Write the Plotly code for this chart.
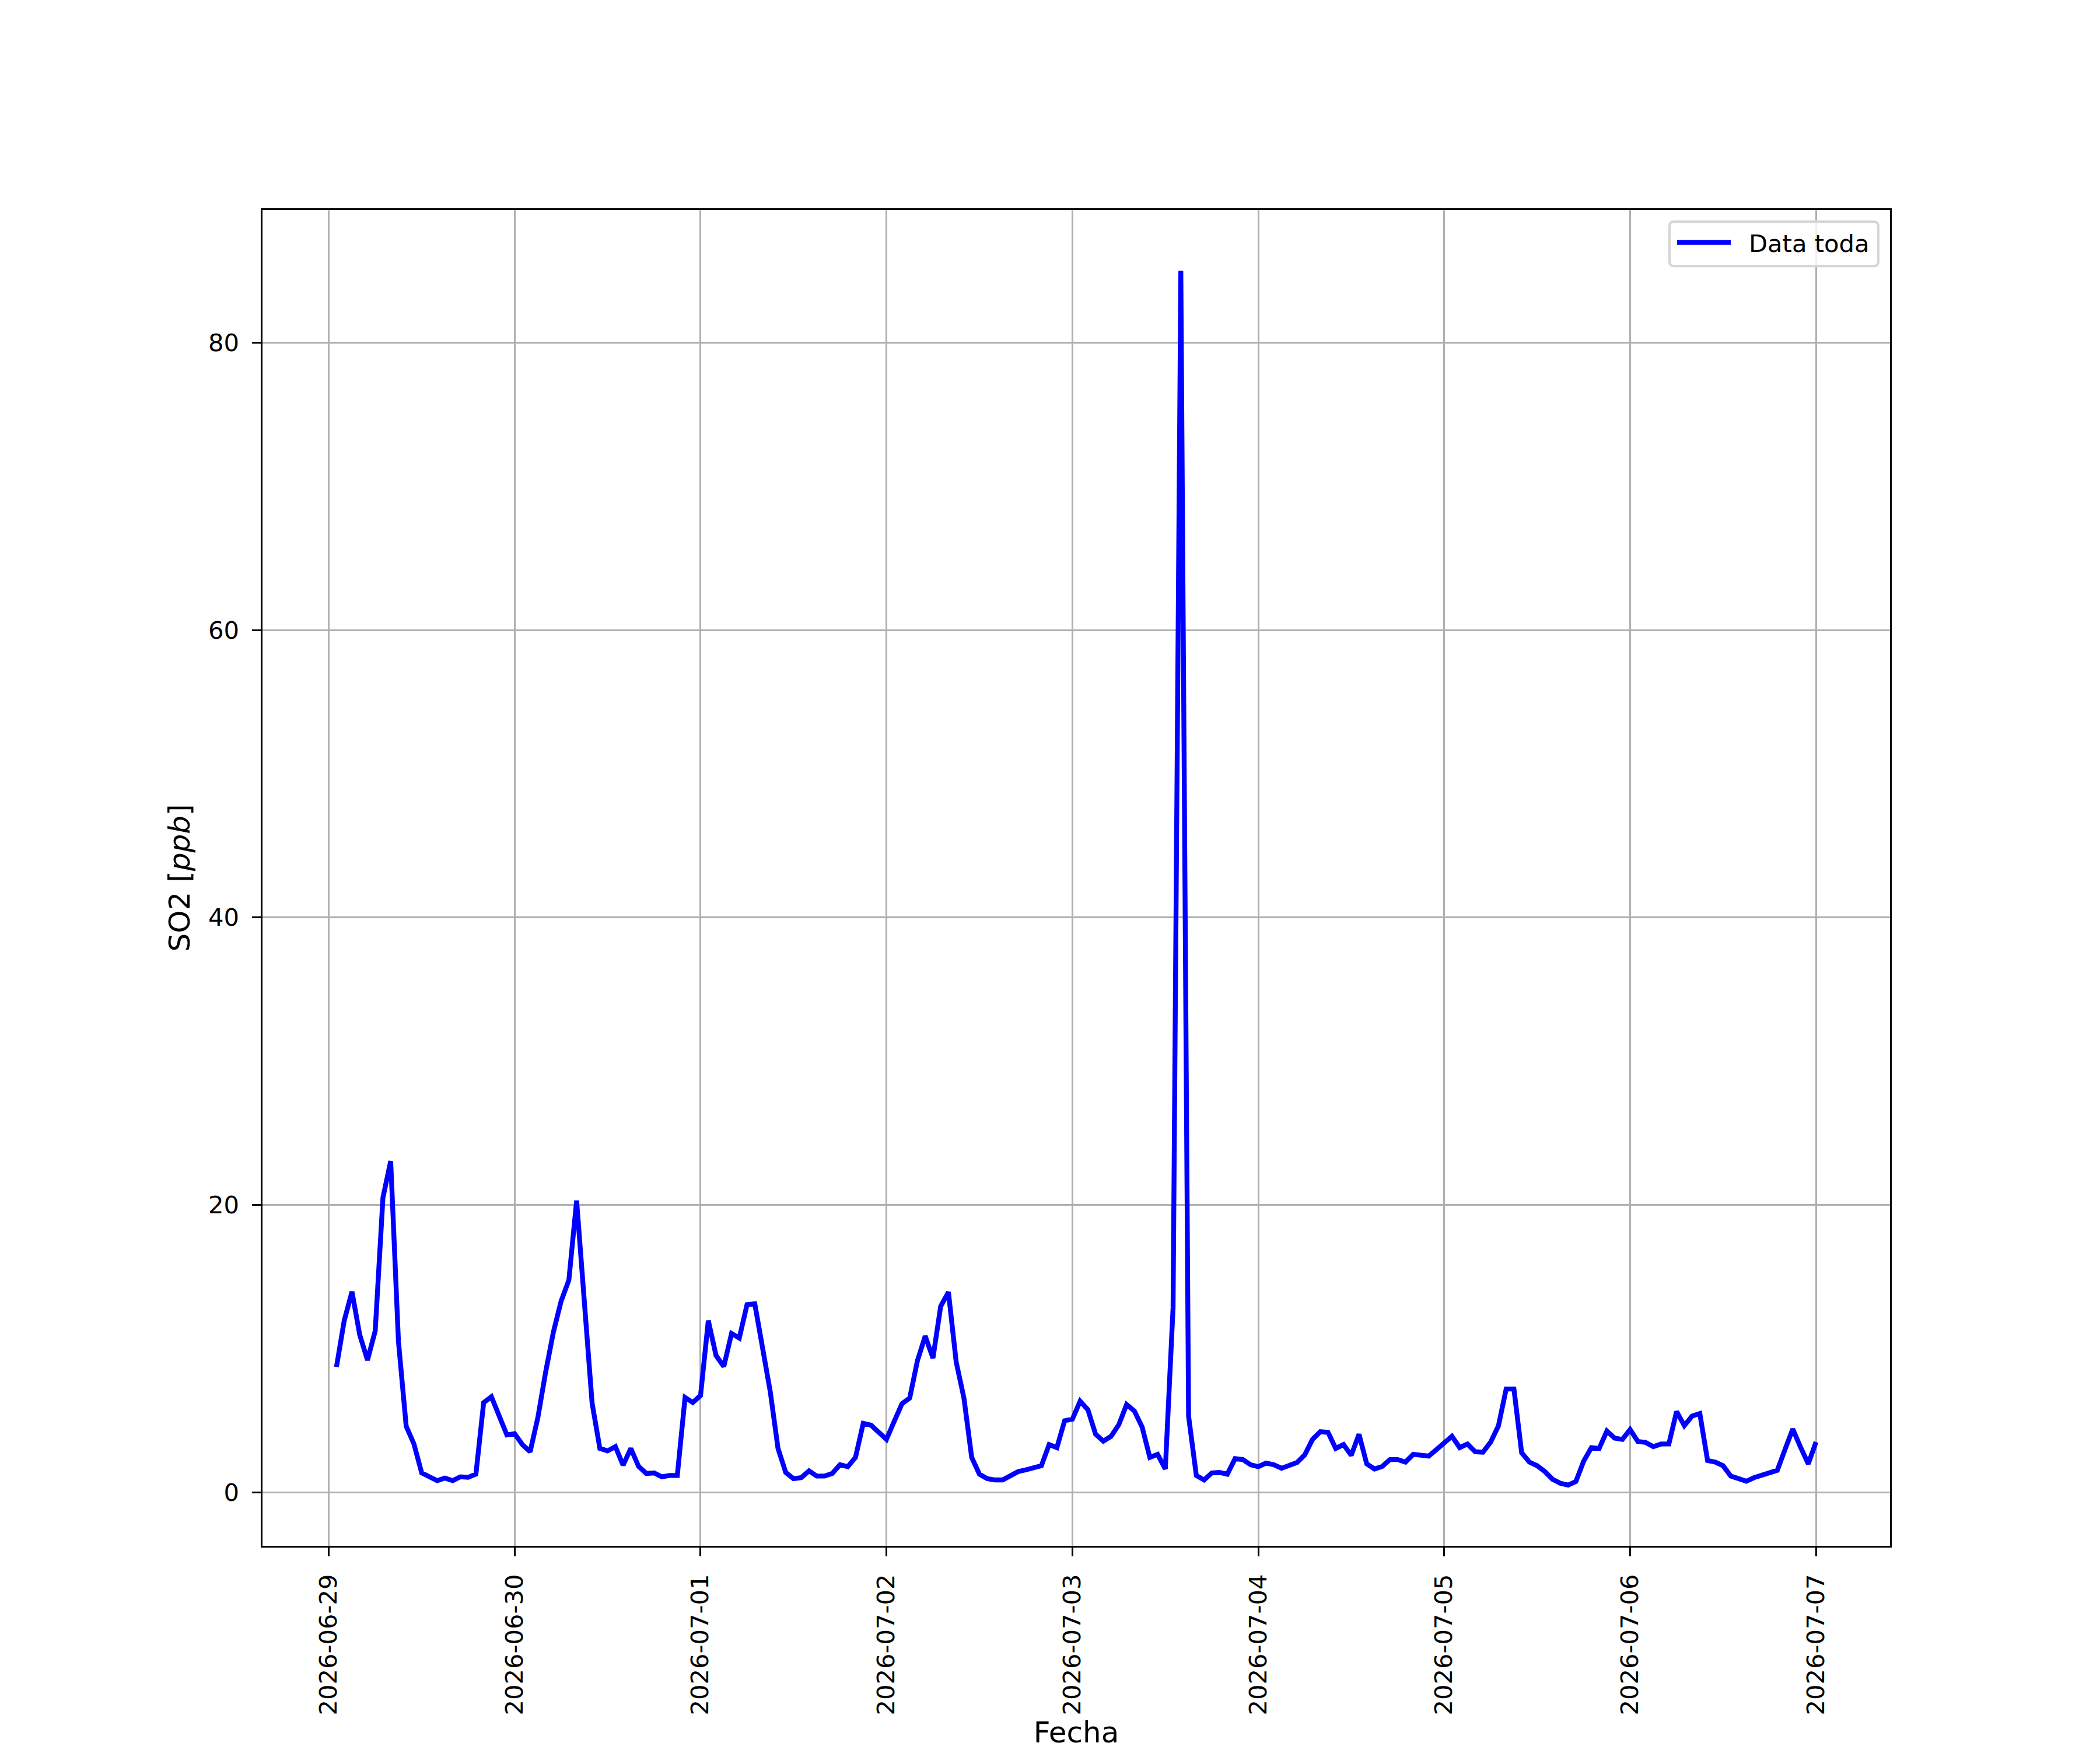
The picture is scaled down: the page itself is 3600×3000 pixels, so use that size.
"""
SO2 hourly series, 2026-06-29 .. 2026-07-07, matplotlib-like styling in Plotly.
"""

import pandas as pd
import plotly.graph_objects as go

# hourly readings, first one at 2026-06-29 01:00
start_time = "2026-06-29 01:00"
so2_ppb = [
    # 06-29 01h .. 06-30 00h
    8.72, 11.95, 13.96, 10.96, 9.2, 11.23, 20.5, 23.05, 10.5, 4.6, 3.36, 1.35,
    1.08, 0.81, 0.99, 0.81, 1.08, 1.04, 1.26, 6.24, 6.65, 5.3, 3.99, 4.08,
    # 06-30 01h .. 07-01 00h
    3.32, 2.82, 5.21, 8.36, 11.14, 13.3, 14.77, 20.3, 12.8, 6.2, 3.05, 2.88,
    3.18, 1.89, 3.05, 1.8, 1.31, 1.35, 1.08, 1.17, 1.17, 6.6, 6.25, 6.74,
    # 07-01 01h .. 07-02 00h
    11.95, 9.52, 8.75, 11.05, 10.73, 13.06, 13.12, 9.97, 7.0, 3.05, 1.38, 0.95,
    1.02, 1.49, 1.13, 1.13, 1.31, 1.92, 1.78, 2.43, 4.8, 4.67, 4.19, 3.68,
    # 07-02 01h .. 07-03 00h
    4.94, 6.16, 6.56, 9.16, 10.87, 9.34, 12.94, 13.93, 9.07, 6.56, 2.43, 1.26,
    0.95, 0.86, 0.86, 1.11, 1.44, 1.56, 1.71, 1.85, 3.32, 3.11, 4.98, 5.09,
    # 07-03 01h .. 07-04 00h
    6.34, 5.75, 4.04, 3.56, 3.9, 4.71, 6.11, 5.66, 4.55, 2.43, 2.64, 1.62,
    12.85, 85.0, 5.3, 1.17, 0.86, 1.35, 1.38, 1.26, 2.34, 2.28, 1.92, 1.78,
    # 07-04 01h .. 07-05 00h
    2.03, 1.92, 1.67, 1.85, 2.07, 2.61, 3.68, 4.22, 4.17, 3.05, 3.32, 2.57,
    4.04, 1.98, 1.62, 1.8, 2.28, 2.28, 2.1, 2.64, 2.57, 2.52, 2.97, 3.47,
    # 07-05 01h .. 07-06 00h
    3.9, 3.11, 3.36, 2.82, 2.79, 3.5, 4.62, 7.19, 7.19, 2.75, 2.1, 1.85,
    1.44, 0.9, 0.63, 0.5, 0.75, 2.16, 3.11, 3.05, 4.26, 3.77, 3.68, 4.37,
    # 07-06 01h .. 07-07 00h
    3.54, 3.47, 3.18, 3.36, 3.36, 5.62, 4.64, 5.3, 5.48, 2.21, 2.1, 1.85,
    1.13, 0.95, 0.77, 1.02, 1.17, 1.31, 1.53, 2.98, 4.4, 3.14, 1.98, 3.5,
]
series_name = "Data toda"
x_title = "Fecha"
y_title = "SO2 [<i>ppb</i>]"

fechas = pd.date_range(start_time, periods=len(so2_ppb), freq="h")

# figure geometry (300 dpi, 12x10 in, default subplot params)
W, H = 3600, 3000
L, R, T, B = 450, 3240, 360, 2670
PT = 300 / 72.0
FONT = "DejaVu Sans"


def px_x(p):
    return (p - L) / (R - L)


def px_y(p):
    return (B - p) / (B - T)


# autoscale like matplotlib: 5% margins
span = fechas[-1] - fechas[0]
x_range = [fechas[0] - span * 0.05, fechas[-1] + span * 0.05]
y_lo, y_hi = min(so2_ppb), max(so2_ppb)
y_range = [y_lo - 0.05 * (y_hi - y_lo), y_hi + 0.05 * (y_hi - y_lo)]

fig = go.Figure()
fig.add_trace(go.Scatter(
    x=fechas, y=so2_ppb, mode="lines", name=series_name,
    line=dict(color="#0000ff", width=2 * PT), showlegend=False,
))

axis_common = dict(
    showline=True, linecolor="black", linewidth=0.8 * PT, mirror=True,
    showgrid=True, gridcolor="#b0b0b0", gridwidth=0.8 * PT,
    zeroline=False,
    ticks="outside", ticklen=3.5 * PT, tickwidth=0.8 * PT, tickcolor="black",
    tickfont=dict(family=FONT, size=10 * PT, color="black"),
    ticklabelstandoff=int(3.5 * PT),
)

fig.update_layout(
    width=W, height=H,
    margin=dict(l=L, r=W - R, t=T, b=H - B, pad=0),
    paper_bgcolor="white", plot_bgcolor="white",
    font=dict(family=FONT, color="black"),
    xaxis=dict(
        type="date", range=x_range,
        tick0="2026-06-29", dtick=86400000, tickformat="%Y-%m-%d", tickangle=-90,
        title=dict(text=x_title, font=dict(family=FONT, size=12 * PT), standoff=12),
        **axis_common,
    ),
    yaxis=dict(
        range=y_range, tick0=0, dtick=20,
        title=dict(text=y_title, font=dict(family=FONT, size=12 * PT), standoff=16),
        **axis_common,
    ),
)

# legend box drawn by hand so the handle length matches matplotlib's
bx0, bx1, by0, by1, rad = 2862, 3220, 380, 457, 8
box_path = (
    f"M {px_x(bx0 + rad)} {px_y(by0)} L {px_x(bx1 - rad)} {px_y(by0)} "
    f"Q {px_x(bx1)} {px_y(by0)} {px_x(bx1)} {px_y(by0 + rad)} "
    f"L {px_x(bx1)} {px_y(by1 - rad)} "
    f"Q {px_x(bx1)} {px_y(by1)} {px_x(bx1 - rad)} {px_y(by1)} "
    f"L {px_x(bx0 + rad)} {px_y(by1)} "
    f"Q {px_x(bx0)} {px_y(by1)} {px_x(bx0)} {px_y(by1 - rad)} "
    f"L {px_x(bx0)} {px_y(by0 + rad)} "
    f"Q {px_x(bx0)} {px_y(by0)} {px_x(bx0 + rad)} {px_y(by0)} Z"
)
fig.add_shape(type="path", path=box_path, xref="paper", yref="paper",
              line=dict(color="#d6d6d6", width=1.0 * PT),
              fillcolor="rgba(255,255,255,0.8)", layer="above")
fig.add_shape(type="line", xref="paper", yref="paper",
              x0=px_x(2875), x1=px_x(2967), y0=px_y(416), y1=px_y(416),
              line=dict(color="#0000ff", width=2 * PT), layer="above")
fig.add_annotation(text=series_name, xref="paper", yref="paper",
                   x=px_x(2996), y=px_y(418), xanchor="left", yanchor="middle",
                   showarrow=False, font=dict(family=FONT, size=10 * PT, color="black"))

# drop the browser's default body margin so the page is exactly W x H
fig.write_html("out.html", config={"displayModeBar": False},
               post_script="document.body.style.margin='0';")
